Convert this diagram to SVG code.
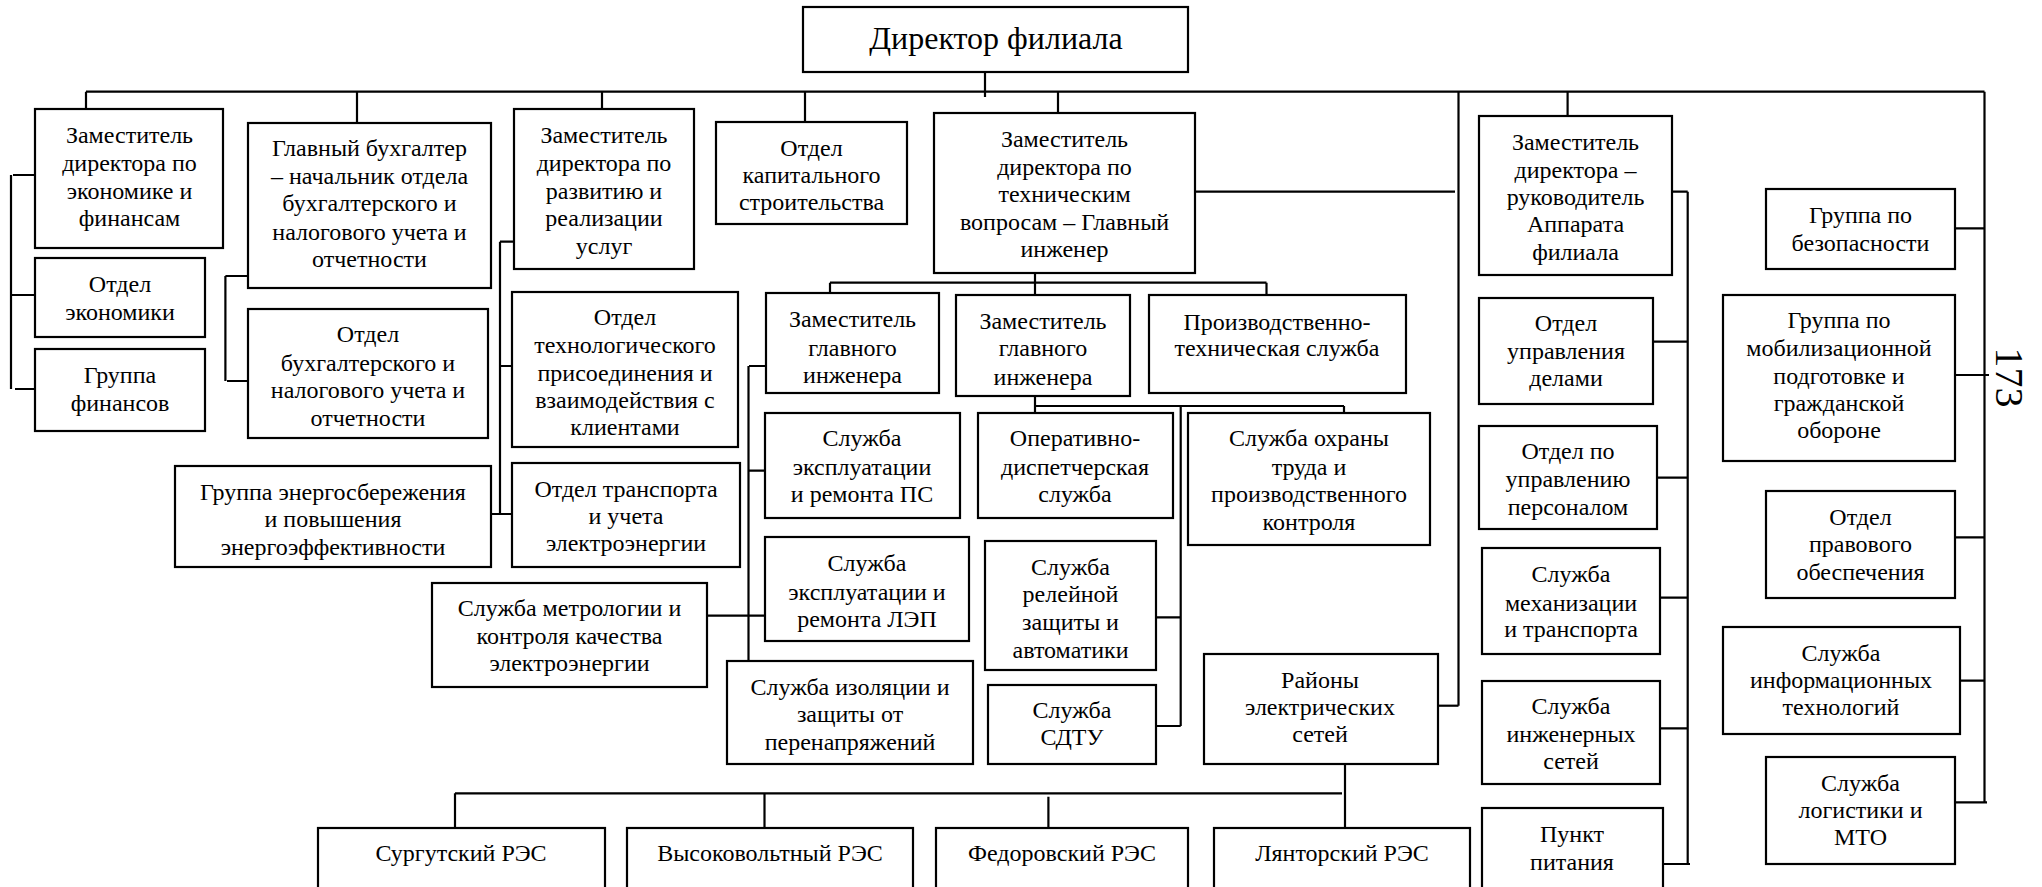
<svg xmlns="http://www.w3.org/2000/svg" width="2042" height="887" viewBox="0 0 2042 887">
<style>
.b{fill:#fff;stroke:#000;stroke-width:2.2}
.t{font-family:"Liberation Serif","Times New Roman",serif;font-size:24px;text-anchor:middle;fill:#000}
.c{stroke:#000;stroke-width:2.2;fill:none}
</style>
<rect width="2042" height="887" fill="#fff"/>
<g id="connectors" class="c">
<path d="M985,72V97M86,91.7H1984.5M86,91.7V109M357,91.7V123M602,91.7V109M805,91.7V122M1058,91.7V113M1458.5,91.7V705.7M1567.6,91.7V116M1984.5,91.7V802.3"/>
<path d="M11,175V389M13,175H35M11,295H35M15,389H35"/>
<path d="M225.4,276V381M225.4,276H248M227,381H248"/>
<path d="M500,241.7V514M500,241.7H514M500,366H512M487,514H513"/>
<path d="M1195,191.7H1455"/>
<path d="M1035,273V297M830,282.7H1266.5M830,282.7V293M1266.5,282.7V295"/>
<path d="M749,366H766M748.5,366V661M748.5,470.7H765M707,615.7H765"/>
<path d="M1035,396V413M1035,406H1344M1344,406V413M1180.7,406V726M1156,617.3H1180.7M1156,726H1180.7"/>
<path d="M1345,764V828M455,793.3H1342M455,793.3V828M764.5,793.3V828M1048.4,796.7V828"/>
<path d="M1438,705.7H1458.5"/>
<path d="M1687.7,191.7V864M1666,191.7H1687.7M1653,341.7H1687.7M1657,477.7H1687.7M1660,597.7H1687.7M1657,728.3H1687.7M1660.7,864H1690"/>
<path d="M1955,228.3H1984.5M1952,375H1989M1955,537.3H1984.5M1960,680.7H1984.5M1952,802.3H1987"/>
</g>
<g id="n-director"><rect class="b" x="803" y="7" width="385" height="65"/><text class="t" x="996" y="49" style="font-size:32px">Директор филиала</text></g>
<g id="n-zam-econ"><rect class="b" x="35" y="109" width="188" height="139"/><text class="t" x="129.5"><tspan x="129.5" y="143">Заместитель</tspan><tspan x="129.5" y="171.3">директора по</tspan><tspan x="129.5" y="198.7">экономике и</tspan><tspan x="129.5" y="226.3">финансам</tspan></text></g>
<g id="n-otd-econ"><rect class="b" x="35" y="258" width="170" height="79"/><text class="t"><tspan x="120" y="292.3">Отдел</tspan><tspan x="120" y="320.3">экономики</tspan></text></g>
<g id="n-gr-fin"><rect class="b" x="35" y="349" width="170" height="82"/><text class="t"><tspan x="120" y="383">Группа</tspan><tspan x="120" y="411.3">финансов</tspan></text></g>
<g id="n-gl-buh"><rect class="b" x="248" y="123" width="243" height="165"/><text class="t"><tspan x="369.5" y="156.3">Главный бухгалтер</tspan><tspan x="369.5" y="184">– начальник отдела</tspan><tspan x="369.5" y="211.3">бухгалтерского и</tspan><tspan x="369.5" y="239.7">налогового учета и</tspan><tspan x="369.5" y="267.3">отчетности</tspan></text></g>
<g id="n-otd-buh"><rect class="b" x="248" y="309" width="240" height="129"/><text class="t"><tspan x="368" y="342.3">Отдел</tspan><tspan x="368" y="370.7">бухгалтерского и</tspan><tspan x="368" y="398">налогового учета и</tspan><tspan x="368" y="425.7">отчетности</tspan></text></g>
<g id="n-zam-razv"><rect class="b" x="514" y="109" width="180" height="160"/><text class="t"><tspan x="604" y="143">Заместитель</tspan><tspan x="604" y="171.3">директора по</tspan><tspan x="604" y="198.7">развитию и</tspan><tspan x="604" y="226.3">реализации</tspan><tspan x="604" y="254">услуг</tspan></text></g>
<g id="n-otd-tp"><rect class="b" x="512" y="292" width="226" height="155"/><text class="t"><tspan x="625" y="324.7">Отдел</tspan><tspan x="625" y="353">технологического</tspan><tspan x="625" y="380.7">присоединения и</tspan><tspan x="625" y="408">взаимодействия с</tspan><tspan x="625" y="434.7">клиентами</tspan></text></g>
<g id="n-otd-trans"><rect class="b" x="512" y="463" width="228" height="104"/><text class="t"><tspan x="626" y="497.3">Отдел транспорта</tspan><tspan x="626" y="524">и учета</tspan><tspan x="626" y="551.3">электроэнергии</tspan></text></g>
<g id="n-gr-energo"><rect class="b" x="175" y="466" width="316" height="101"/><text class="t"><tspan x="333" y="499.7">Группа энергосбережения</tspan><tspan x="333" y="527">и повышения</tspan><tspan x="333" y="554.7">энергоэффективности</tspan></text></g>
<g id="n-metrol"><rect class="b" x="432" y="583" width="275" height="104"/><text class="t"><tspan x="569.5" y="616.3">Служба метрологии и</tspan><tspan x="569.5" y="644">контроля качества</tspan><tspan x="569.5" y="671.3">электроэнергии</tspan></text></g>
<g id="n-kap"><rect class="b" x="716" y="122" width="191" height="102"/><text class="t"><tspan x="811.5" y="156.3">Отдел</tspan><tspan x="811.5" y="183">капитального</tspan><tspan x="811.5" y="210.3">строительства</tspan></text></g>
<g id="n-zam-tech"><rect class="b" x="934" y="113" width="261" height="160"/><text class="t"><tspan x="1064.5" y="147.3">Заместитель</tspan><tspan x="1064.5" y="174.7">директора по</tspan><tspan x="1064.5" y="202.3">техническим</tspan><tspan x="1064.5" y="229.7">вопросам – Главный</tspan><tspan x="1064.5" y="257.3">инженер</tspan></text></g>
<g id="n-zgi1"><rect class="b" x="766" y="293" width="173" height="100"/><text class="t"><tspan x="852.5" y="327">Заместитель</tspan><tspan x="852.5" y="355.7">главного</tspan><tspan x="852.5" y="383">инженера</tspan></text></g>
<g id="n-zgi2"><rect class="b" x="956" y="295" width="174" height="101"/><text class="t"><tspan x="1043" y="328.7">Заместитель</tspan><tspan x="1043" y="356.3">главного</tspan><tspan x="1043" y="384.7">инженера</tspan></text></g>
<g id="n-pts"><rect class="b" x="1149" y="295" width="257" height="98"/><text class="t"><tspan x="1277" y="329.7">Производственно-</tspan><tspan x="1277" y="356.3">техническая служба</tspan></text></g>
<g id="n-sl-ps"><rect class="b" x="765" y="413" width="195" height="105"/><text class="t"><tspan x="862" y="446.3">Служба</tspan><tspan x="862" y="474.7">эксплуатации</tspan><tspan x="862" y="502">и ремонта ПС</tspan></text></g>
<g id="n-ods"><rect class="b" x="978" y="413" width="195" height="105"/><text class="t"><tspan x="1075" y="446.3">Оперативно-</tspan><tspan x="1075" y="474.7">диспетчерская</tspan><tspan x="1075" y="502">служба</tspan></text></g>
<g id="n-ohr"><rect class="b" x="1188" y="413" width="242" height="132"/><text class="t"><tspan x="1309" y="446.3">Служба охраны</tspan><tspan x="1309" y="474.7">труда и</tspan><tspan x="1309" y="502">производственного</tspan><tspan x="1309" y="529.7">контроля</tspan></text></g>
<g id="n-sl-lep"><rect class="b" x="765" y="537" width="204" height="104"/><text class="t"><tspan x="867" y="571.3">Служба</tspan><tspan x="867" y="599.7">эксплуатации и</tspan><tspan x="867" y="627.3">ремонта ЛЭП</tspan></text></g>
<g id="n-rza"><rect class="b" x="985" y="541" width="171" height="129"/><text class="t"><tspan x="1070.5" y="574.7">Служба</tspan><tspan x="1070.5" y="602.3">релейной</tspan><tspan x="1070.5" y="630.3">защиты и</tspan><tspan x="1070.5" y="658">автоматики</tspan></text></g>
<g id="n-izol"><rect class="b" x="727" y="661" width="246" height="103"/><text class="t"><tspan x="850" y="694.7">Служба изоляции и</tspan><tspan x="850" y="722">защиты от</tspan><tspan x="850" y="749.7">перенапряжений</tspan></text></g>
<g id="n-sdtu"><rect class="b" x="988" y="685" width="168" height="79"/><text class="t"><tspan x="1072" y="718">Служба</tspan><tspan x="1072" y="744.7">СДТУ</tspan></text></g>
<g id="n-res"><rect class="b" x="1204" y="654" width="234" height="110"/><text class="t"><tspan x="1320" y="688">Районы</tspan><tspan x="1320" y="715.3">электрических</tspan><tspan x="1320" y="742.3">сетей</tspan></text></g>
<g id="n-surg"><rect class="b" x="318" y="828" width="287" height="80"/><text class="t" x="461" y="861.3">Сургутский РЭС</text></g>
<g id="n-vys"><rect class="b" x="627" y="828" width="286" height="80"/><text class="t" x="770" y="861.3">Высоковольтный РЭС</text></g>
<g id="n-fed"><rect class="b" x="936" y="828" width="252" height="80"/><text class="t" x="1062" y="861.3">Федоровский РЭС</text></g>
<g id="n-lyan"><rect class="b" x="1214" y="828" width="256" height="80"/><text class="t" x="1342" y="861.3">Лянторский РЭС</text></g>
<g id="n-zam-app"><rect class="b" x="1479" y="116" width="193" height="159"/><text class="t"><tspan x="1575.5" y="149.7">Заместитель</tspan><tspan x="1575.5" y="178">директора –</tspan><tspan x="1575.5" y="204.7">руководитель</tspan><tspan x="1575.5" y="232">Аппарата</tspan><tspan x="1575.5" y="259.7">филиала</tspan></text></g>
<g id="n-upr-del"><rect class="b" x="1479" y="298" width="174" height="106"/><text class="t"><tspan x="1566" y="331.3">Отдел</tspan><tspan x="1566" y="359">управления</tspan><tspan x="1566" y="386.3">делами</tspan></text></g>
<g id="n-pers"><rect class="b" x="1479" y="426" width="178" height="103"/><text class="t"><tspan x="1568" y="459">Отдел по</tspan><tspan x="1568" y="487.3">управлению</tspan><tspan x="1568" y="515.3">персоналом</tspan></text></g>
<g id="n-mech"><rect class="b" x="1482" y="548" width="178" height="106"/><text class="t"><tspan x="1571" y="582">Служба</tspan><tspan x="1571" y="610.7">механизации</tspan><tspan x="1571" y="637.3">и транспорта</tspan></text></g>
<g id="n-inzh"><rect class="b" x="1482" y="681" width="178" height="103"/><text class="t"><tspan x="1571" y="713.7">Служба</tspan><tspan x="1571" y="742">инженерных</tspan><tspan x="1571" y="768.7">сетей</tspan></text></g>
<g id="n-pit"><rect class="b" x="1482" y="808" width="181" height="90"/><text class="t"><tspan x="1572" y="842.3">Пункт</tspan><tspan x="1572" y="869.7">питания</tspan></text></g>
<g id="n-bez"><rect class="b" x="1766" y="189" width="189" height="80"/><text class="t"><tspan x="1860.5" y="223">Группа по</tspan><tspan x="1860.5" y="250.7">безопасности</tspan></text></g>
<g id="n-mob"><rect class="b" x="1723" y="295" width="232" height="166"/><text class="t"><tspan x="1839" y="328">Группа по</tspan><tspan x="1839" y="356.3">мобилизационной</tspan><tspan x="1839" y="384">подготовке и</tspan><tspan x="1839" y="411.3">гражданской</tspan><tspan x="1839" y="438">обороне</tspan></text></g>
<g id="n-prav"><rect class="b" x="1766" y="491" width="189" height="107"/><text class="t"><tspan x="1860.5" y="524.7">Отдел</tspan><tspan x="1860.5" y="552.3">правового</tspan><tspan x="1860.5" y="579.7">обеспечения</tspan></text></g>
<g id="n-it"><rect class="b" x="1723" y="627" width="237" height="107"/><text class="t"><tspan x="1841" y="660.7">Служба</tspan><tspan x="1841" y="688">информационных</tspan><tspan x="1841" y="715.3">технологий</tspan></text></g>
<g id="n-log"><rect class="b" x="1766" y="757" width="189" height="107"/><text class="t"><tspan x="1860.5" y="790.7">Служба</tspan><tspan x="1860.5" y="818">логистики и</tspan><tspan x="1860.5" y="845.3">МТО</tspan></text></g>
<text class="t" transform="translate(1996,377.5) rotate(90)" x="0" y="0" style="font-size:40px">173</text>
</svg>
